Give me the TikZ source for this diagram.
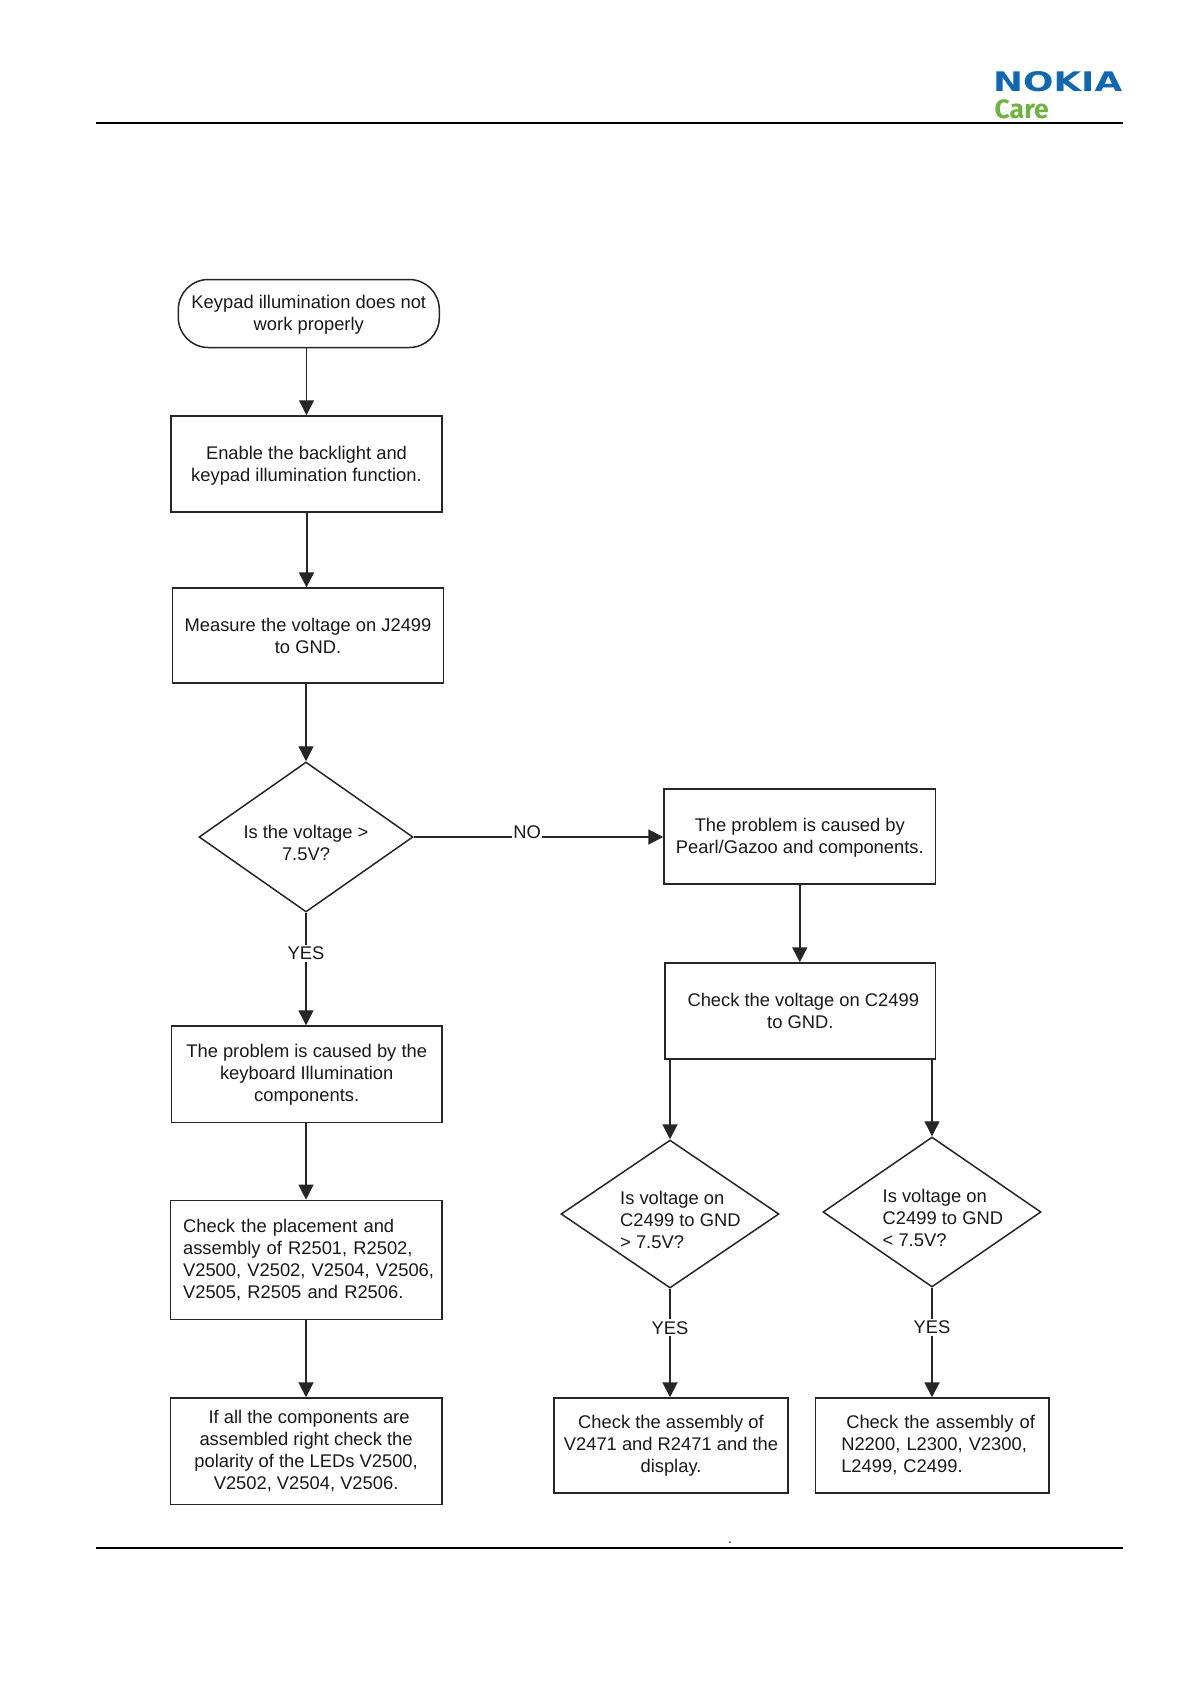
\documentclass[tikz,border=0pt]{standalone}
\usepackage{fontspec}
\usepackage{graphicx}
\setmainfont{Liberation Sans}
\newfontfamily\logofont{DejaVu Sans}
\newfontfamily\carefont{Fira Sans}
\usetikzlibrary{arrows.meta,shapes.geometric}
\definecolor{nokiablue}{HTML}{1167B1}
\definecolor{caregreen}{HTML}{6CB33F}
\tikzset{
  x=1pt,y=-1pt,
  every node/.style={font=\fontsize{18.35}{22}\selectfont,text=black!90},
  flowbox/.style={draw=black!85,line width=1.5pt,rectangle,inner sep=0pt,align=center},
  terminal/.style={flowbox,rounded corners=30pt},
  decision/.style={draw=black!85,line width=1.5pt,diamond,inner sep=0pt,aspect=1.43},
  dtext/.style={inner sep=0pt},
  link/.style={draw=black!85,line width=1.3pt,-{Triangle[width=15pt,length=15pt]}},
  linkb/.style={link,line width=2pt},
  answer/.style={fill=white,inner xsep=1pt,inner ysep=2pt,pos=.36},
  rule/.style={draw=black,line width=2pt}
}
\begin{document}
\begin{tikzpicture}
\useasboundingbox (0,0) rectangle (1191,1684);
\fill[white] (0,0) rectangle (1191,1684);

% page furniture
\coordinate (tl) at (96,123); \coordinate (tr) at (1123,123);
\coordinate (bl) at (96,1548); \coordinate (br) at (1123,1548);
\draw[rule] (tl) -- (tr);
\draw[rule] (bl) -- (br);
\node[inner sep=0pt,anchor=north west,font=\logofont\bfseries\fontsize{20}{20}\selectfont,text=nokiablue] (nokia) at (993,71)
  {\resizebox{129pt}{20pt}{NOKIA}};
\node[inner sep=0pt,anchor=base west,font=\carefont\bfseries\fontsize{28}{28}\selectfont,text=caregreen] (care) at (994.5,118)
  {\resizebox{54pt}{!}{Care}};
\node[inner sep=0pt,font=\fontsize{14}{14}\selectfont] (dot) at (730,1543) {.};

% left column
\node[terminal,minimum width=261pt,minimum height=68pt] (start) at (308.8,313.5)
  {\rule{0pt}{15pt}Keypad illumination does not\\work properly};
\node[flowbox,minimum width=271pt,minimum height=96pt] (enable) at (306.5,464)
  {\rule{0pt}{16pt}Enable the backlight and\\keypad illumination function.};
\node[flowbox,minimum width=271.2pt,minimum height=95pt] (measure) at (308,635.6)
  {Measure the voltage on J2499\\to GND.};
\node[decision,minimum width=214pt,minimum height=150pt] (d1) at (306,837) {};
\node[dtext,align=center] (d1t) at (306,843) {Is the voltage >\\7.5V?};
\node[flowbox,minimum width=270.7pt,minimum height=96.6pt] (cause) at (306.7,1074.3)
  {\rule{0pt}{15pt}The problem is caused by the\\keyboard Illumination\\components.};
\node[flowbox,minimum width=271.7pt,minimum height=119.2pt,align=left,text width=246pt] (place) at (306.1,1260)
  {\mbox{Check the placement and}\\\mbox{assembly of R2501, R2502,}\\\mbox{V2500, V2502, V2504, V2506,}\\\mbox{V2505, R2505 and R2506.}};
\node[flowbox,minimum width=271.7pt,minimum height=106.4pt] (polar) at (306.1,1451.2)
  {\hspace*{6pt}If all the components are\\assembled right check the\\polarity of the LEDs V2500,\\V2502, V2504, V2506.};

% right column
\node[flowbox,minimum width=271.6pt,minimum height=95pt] (pearl) at (799.8,836.5)
  {\rule{0pt}{15pt}The problem is caused by\\Pearl/Gazoo and components.};
\node[flowbox,minimum width=270.6pt,minimum height=96pt] (check) at (800.3,1011)
  {\hspace*{6pt}Check the voltage on C2499\\to GND.};
\node[decision,minimum width=218pt,minimum height=148pt] (d2) at (670,1214) {};
\node[dtext,align=left,anchor=west] (d2t) at (620,1220) {Is voltage on\\C2499 to GND\\> 7.5V?};
\node[decision,minimum width=218pt,minimum height=150pt] (d3) at (932,1212) {};
\node[dtext,align=left,anchor=west] (d3t) at (882.5,1218) {Is voltage on\\C2499 to GND\\< 7.5V?};
\node[flowbox,minimum width=234pt,minimum height=95pt] (asm1) at (671,1445.5)
  {Check the assembly of\\V2471 and R2471 and the\\display.};
\node[flowbox,minimum width=233.5pt,minimum height=95pt,align=left,text width=181.5pt] (asm2) at (932,1445.5)
  {\mbox{\hspace*{5pt}Check the assembly of}\\\mbox{N2200, L2300, V2300,}\\\mbox{L2499, C2499.}};

% connectors
\draw[link] (enable.north |- start.south) -- (enable.north);
\draw[linkb] (enable.south) -- (enable.south |- measure.north);
\draw[link] (d1.north |- measure.south) -- (d1.north);
\draw[linkb] (d1.east) -- node[pos=.454,fill=white,inner xsep=1pt,inner ysep=2pt,yshift=5pt] (no) {NO} (pearl.west |- d1.east);
\draw[link] (d1.south) -- node[answer] (yes1) {YES} (d1.south |- cause.north);
\draw[link] (d1.south |- cause.south) -- (d1.south |- place.north);
\draw[linkb] (d1.south |- place.south) -- (d1.south |- polar.north);
\draw[linkb] (pearl.south) -- (pearl.south |- check.north);
\draw[linkb] (d2.north |- check.south) -- (d2.north);
\draw[link] (d3.north |- check.south) -- (d3.north);
\draw[linkb] (d2.south) -- node[answer] (yes2) {YES} (d2.south |- asm1.north);
\draw[linkb] (d3.south) -- node[answer] (yes3) {YES} (d3.south |- asm2.north);
\end{tikzpicture}
\end{document}
